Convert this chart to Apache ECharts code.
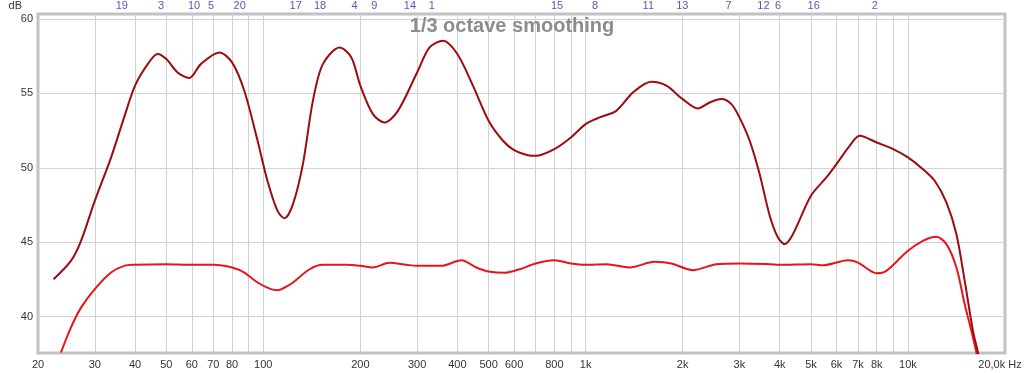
<!DOCTYPE html>
<html><head><meta charset="utf-8">
<script src="https://cdn.jsdelivr.net/npm/echarts@6/dist/echarts.min.js"></script>
<style>html,body{margin:0;padding:0;background:#fff}#c{width:1024px;height:373px}</style>
</head><body><div id="c"></div>
<script>
// Upper (dark red) curve
const freqUpper = [22.35,25.3,27.2,30,33.7,37.0,40,43.8,47.0,50,54.2,58.9,64.0,73.0,80,87.3,96.0,103,110.7,116.3,123.6,132.7,142.5,153,172.5,187.6,200,218.8,237.9,261.6,300,328,360.8,400,447,500,553.9,600,662,700,800,900,1000,1105,1245,1403,1599,1780,2000,2230,2425,2636,2832,3000,3228,3467,3723,3951,4144,4397,5000,5582,6000,6592,7080,8000,9000,10000,11130,12104,13157,14134,14997,15910,16490,16800];
const dbUpper   = [42.51,43.74,45.09,47.78,50.69,53.39,55.52,56.97,57.65,57.31,56.41,56.03,56.97,57.76,57.09,55.18,51.82,49.13,47.1,46.61,47.56,50.25,54.5,56.97,58.09,57.42,55.52,53.61,53.05,53.83,56.41,58.09,58.54,57.65,55.52,53.16,51.82,51.19,50.85,50.81,51.26,52.04,52.94,53.39,53.83,55.07,55.78,55.52,54.62,53.99,54.39,54.62,54.28,53.39,51.82,49.57,46.8,45.31,44.87,45.54,48.12,49.35,50.25,51.48,52.15,51.70,51.26,50.70,49.91,49.13,47.67,45.54,42.4,39.04,37.58,36.6];
// Lower (bright red) curve
const freqLower = [23.55,25.3,27.2,30,33.7,37.0,40,50,60,70,80,87.3,96.0,105.6,110.7,119,123.6,139.2,153,180.9,200,218.8,246.5,277.8,300,356.6,411.6,458,500,560.7,624,700,800,900,1000,1159,1369,1637,1845,2152,2544,3000,3723,4000,5000,5449,6515,7000,8000,8570,10000,11130,12250,13157,14134,14997,15728,16305,16600];
const dbLower   = [37.58,39.26,40.6,41.84,42.96,43.41,43.48,43.52,43.48,43.48,43.3,42.96,42.29,41.84,41.77,42.06,42.29,43.18,43.48,43.48,43.41,43.3,43.61,43.48,43.41,43.41,43.79,43.3,43.03,42.94,43.18,43.57,43.79,43.57,43.48,43.52,43.3,43.68,43.57,43.12,43.52,43.57,43.52,43.48,43.52,43.45,43.79,43.63,42.91,43.07,44.42,45.09,45.36,44.87,43.3,40.83,39.04,37.58,36.7];
// Numbered markers along the top
const markerFreq  = [36.4,48.2,61,68.9,84.5,126,150,192,221,285,333,815,1070,1565,1995,2775,3560,3950,5100,7890];
const markerLabel = ['19','3','10','5','20','17','18','4','9','14','1','15','8','11','13','7','12','6','16','2'];
// Axis ticks
const xGridValues  = [30,40,50,60,70,80,90,100,200,300,400,500,600,700,800,900,1000,2000,3000,4000,5000,6000,7000,8000,9000,10000];
const xLabelValues = [20,30,40,50,60,70,80,100,200,300,400,500,600,800,1000,2000,3000,4000,5000,6000,7000,8000,10000,20000];
const yTickValues  = [40,45,50,55,60];
const titleText = '1/3 octave smoothing';

function xLabelText(v){
  const r = Math.round(v);
  if (r >= 20000) return '{last|20,0k Hz}';
  if (r >= 1000) return (r/1000) + 'k';
  return String(r);
}

const chart = echarts.init(document.getElementById('c'), null, {renderer:'canvas'});
const font = 'Liberation Sans, Arial, sans-serif';
chart.setOption({
  animation:false,
  backgroundColor:'#ffffff',
  title:{text:titleText,left:'center',top:11,textStyle:{fontFamily:font,fontSize:20,fontWeight:'bold',color:'#8c8c8c'}},
  grid:{left:38,right:19,top:14,bottom:20,show:true,outerBoundsMode:'none',containLabel:false,borderColor:'#c2c2c2',borderWidth:3,backgroundColor:'transparent'},
  xAxis:{type:'log',logBase:10,min:20,max:20000,
    axisLine:{show:false},
    axisTick:{show:false,customValues:xGridValues},
    splitLine:{show:true,lineStyle:{color:'#d2d2d2',width:1}},
    axisLabel:{customValues:xLabelValues,formatter:xLabelText,fontFamily:font,fontSize:11,color:'#333',margin:6,showMinLabel:true,showMaxLabel:true,hideOverlap:false,
      rich:{last:{fontFamily:font,fontSize:11,color:'#333',padding:[0,10,0,0]}}}
  },
  yAxis:{type:'value',min:37.55,max:60.34,
    name:'dB',nameLocation:'end',nameGap:3,nameTextStyle:{fontFamily:font,fontSize:11,color:'#333',align:'right',padding:[0,16,0,0]},
    axisLine:{show:false},
    axisTick:{show:false,customValues:yTickValues},
    splitLine:{show:true,lineStyle:{color:'#d2d2d2',width:1}},
    axisLabel:{customValues:yTickValues,fontFamily:font,fontSize:11,color:'#333',margin:5}
  },
  series:[
    {type:'line',name:'lower',data:freqLower.map((f,i)=>[f,dbLower[i]]),smooth:0.3,showSymbol:false,clip:true,
      lineStyle:{color:'#e8141c',width:2},z:3},
    {type:'line',name:'upper',data:freqUpper.map((f,i)=>[f,dbUpper[i]]),smooth:0.3,showSymbol:false,clip:true,
      lineStyle:{color:'#9e0b0f',width:2},z:4},
    {type:'scatter',name:'markers',data:markerFreq.map((f,i)=>({value:[f,60.34],name:markerLabel[i]})),
      symbolSize:0.01,clip:false,silent:true,
      label:{show:true,position:'top',distance:3,formatter:p=>p.name,fontFamily:font,fontSize:11,color:'#2a2ab8'}}
  ]
});
</script>
</body></html>
